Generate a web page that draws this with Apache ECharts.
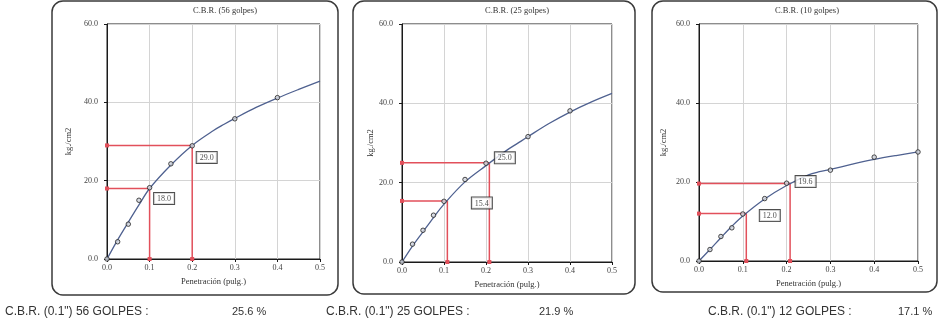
<!DOCTYPE html>
<html>
<head>
<meta charset="utf-8">
<script src="https://cdn.jsdelivr.net/npm/echarts@6/dist/echarts.min.js"></script>
<style>
  html, body { margin: 0; padding: 0; background: #fff; }
  #chart { width: 951px; height: 327px; }
</style>
</head>
<body>
<div id="chart"></div>
<script>
// Penetration readings (in.) at which the load was recorded
const penetration = [0, 0.025, 0.05, 0.075, 0.1, 0.15, 0.2, 0.3, 0.4, 0.5];
// Measured stress (kg/cm2) for each compaction energy
const load56 = [0, 4.4, 8.9, 15.0, 18.2, 24.3, 28.9, 35.8, 41.2, null];
const load25 = [0, 4.5, 8.0, 11.8, 15.3, 20.8, 24.9, 31.6, 38.1, null];
const load10 = [0, 2.9, 6.2, 8.4, 11.9, 15.8, 19.7, 23.0, 26.3, 27.6];

// Fitted stress-penetration curves
const curveX = [0, 0.025, 0.05, 0.075, 0.1, 0.15, 0.2, 0.25, 0.275, 0.3, 0.35, 0.4, 0.45, 0.5];
const curve56 = [0, 4.9, 9.4, 13.8, 18.0, 24.0, 29.0, 32.8, 34.4, 35.9, 38.7, 41.1, 43.3, 45.4];
const curve25 = [0, 4.0, 7.6, 11.2, 14.6, 20.2, 24.3, 28.2, 29.9, 31.6, 34.9, 37.8, 40.3, 42.5];
const curve10 = [0, 2.9, 5.9, 8.8, 11.4, 15.7, 19.1, 21.8, 22.6, 23.2, 24.5, 25.7, 26.7, 27.6];

// Corrected penetration for the 0.1" and 0.2" readings, and the stress read there
const readX56 = [0.1, 0.2];
const readX25 = [0.108, 0.208];
const readX10 = [0.108, 0.208];
const read56 = [18.0, 29.0];
const read25 = [15.4, 25.0];
const read10 = [12.0, 19.6];

const xTicks = ['0.0', '0.1', '0.2', '0.3', '0.4', '0.5'];
const yTicks = ['0.0', '20.0', '40.0', '60.0'];
const titles = ['C.B.R. (56 golpes)', 'C.B.R. (25 golpes)', 'C.B.R. (10 golpes)'];
const summaryLabels = ['C.B.R. (0.1") 56 GOLPES :', 'C.B.R. (0.1") 25 GOLPES :', 'C.B.R. (0.1") 12 GOLPES :'];
const summaryValues = ['25.6 %', '21.9 %', '17.1 %'];

const SERIF = '"Liberation Serif", "DejaVu Serif", serif';
const SANS = '"Liberation Sans", Arial, sans-serif';
const CURVE = '#4f6190';
const RED = '#e2505b';

const panels = [
  { grid: { left: 107, top: 24, width: 213, height: 235 }, load: load56, curve: curve56, rx: readX56, rv: read56,
    box: [52, 1, 286, 294], titleX: 225, nameGap: 34, labelPos: [[5, 5], [5, 7]] },
  { grid: { left: 402, top: 24, width: 210, height: 238 }, load: load25, curve: curve25, rx: readX25, rv: read25,
    box: [353, 1, 282, 293], titleX: 517, nameGap: 27, labelPos: [[25, -3], [6, -10]] },
  { grid: { left: 699, top: 24, width: 219, height: 237 }, load: load10, curve: curve10, rx: readX10, rv: read10,
    box: [652, 1, 285, 291], titleX: 807, nameGap: 31, labelPos: [[14, -3], [6, -7]] }
];

const grids = [], xAxes = [], yAxes = [], series = [], graphics = [];

panels.forEach((p, i) => {
  grids.push(Object.assign({ show: true, borderColor: '#1a1a1a', borderWidth: 1, backgroundColor: 'transparent' }, p.grid));

  xAxes.push({
    gridIndex: i, type: 'value', min: 0, max: 0.5, interval: 0.1,
    name: 'Penetración (pulg.)', nameLocation: 'middle', nameGap: 11,
    nameTextStyle: { fontFamily: SERIF, fontSize: 8.5, color: '#333' },
    axisLine: { lineStyle: { color: '#1a1a1a', width: 1 } },
    axisTick: { show: true, length: 3, lineStyle: { color: '#1a1a1a' } },
    axisLabel: { fontFamily: SERIF, fontSize: 8, color: '#444', margin: 5,
                 formatter: v => xTicks[Math.round(v * 10)] },
    splitLine: { show: true, lineStyle: { color: '#d4d4d4', width: 1 } }
  });

  yAxes.push({
    gridIndex: i, type: 'value', min: 0, max: 60, interval: 20,
    name: 'kg./cm2', nameLocation: 'middle', nameGap: p.nameGap, nameRotate: 90,
    nameTextStyle: { fontFamily: SERIF, fontSize: 8.5, color: '#333' },
    axisLine: { show: true, lineStyle: { color: '#1a1a1a', width: 1 } },
    axisTick: { show: true, length: 3, lineStyle: { color: '#1a1a1a' } },
    axisLabel: { fontFamily: SERIF, fontSize: 8, color: '#444', margin: 9,
                 formatter: v => yTicks[Math.round(v / 20)] },
    splitLine: { show: true, lineStyle: { color: '#d4d4d4', width: 1 } }
  });

  // Red reading lines: from the stress axis to the curve and down to the penetration axis
  p.rx.forEach((x, k) => {
    const v = p.rv[k];
    series.push({
      type: 'line', xAxisIndex: i, yAxisIndex: i, z: 3, silent: true,
      lineStyle: { color: RED, width: 1.5 },
      symbol: 'rect', symbolSize: 4, itemStyle: { color: RED },
      data: [[0, v], { value: [x, v], symbol: 'none' }, [x, 0]]
    });
  });

  // Fitted curve
  series.push({
    type: 'line', xAxisIndex: i, yAxisIndex: i, z: 4, silent: true, smooth: 0.35,
    showSymbol: false, lineStyle: { color: CURVE, width: 1.3 },
    data: curveX.map((x, k) => [x, p.curve[k]])
  });

  // Measured points
  series.push({
    type: 'scatter', xAxisIndex: i, yAxisIndex: i, z: 5, silent: true,
    symbol: 'circle', symbolSize: 4.5,
    itemStyle: { color: '#cfd3dc', borderColor: '#222', borderWidth: 1 },
    data: penetration.map((x, k) => [x, p.load[k]]).filter(d => d[1] !== null)
  });

  // Boxed stress values at the reading points
  series.push({
    type: 'scatter', xAxisIndex: i, yAxisIndex: i, z: 6, silent: true,
    symbolSize: 1, itemStyle: { color: 'transparent' },
    data: p.rx.map((x, k) => ({
      value: [x, p.rv[k]],
      label: { position: p.labelPos[k] }
    })),
    label: {
      show: true, formatter: d => d.value[1].toFixed(1),
      align: 'left', verticalAlign: 'top',
      fontFamily: SERIF, fontSize: 8, color: '#222',
      backgroundColor: '#fff', borderColor: '#222', borderWidth: 1,
      padding: [2, 3, 1, 3]
    }
  });

  // Panel frame and heading
  graphics.push({
    type: 'rect', silent: true, z: -1,
    shape: { x: p.box[0], y: p.box[1], width: p.box[2], height: p.box[3], r: 11 },
    style: { fill: 'none', stroke: '#3a3a3a', lineWidth: 1.5 }
  });
  graphics.push({
    type: 'text', silent: true, x: p.titleX, y: 6,
    style: { text: titles[i], font: '8.5px ' + SERIF, fill: '#333', textAlign: 'center', textVerticalAlign: 'top' }
  });
});

// CBR summary line under the panels
const summaryX = [[5, 232], [326, 539], [708, 898]];
summaryLabels.forEach((t, i) => {
  graphics.push({
    type: 'text', silent: true, x: summaryX[i][0], y: 312,
    style: { text: t, font: '12px ' + SANS, fill: '#333', textVerticalAlign: 'middle' }
  });
  graphics.push({
    type: 'text', silent: true, x: summaryX[i][1], y: 312,
    style: { text: summaryValues[i], font: '11px ' + SANS, fill: '#333', textVerticalAlign: 'middle' }
  });
});

const chart = echarts.init(document.getElementById('chart'), null, { renderer: 'canvas' });
chart.setOption({
  animation: false,
  backgroundColor: '#fff',
  grid: grids,
  xAxis: xAxes,
  yAxis: yAxes,
  series: series,
  graphic: graphics
});
</script>
</body>
</html>
